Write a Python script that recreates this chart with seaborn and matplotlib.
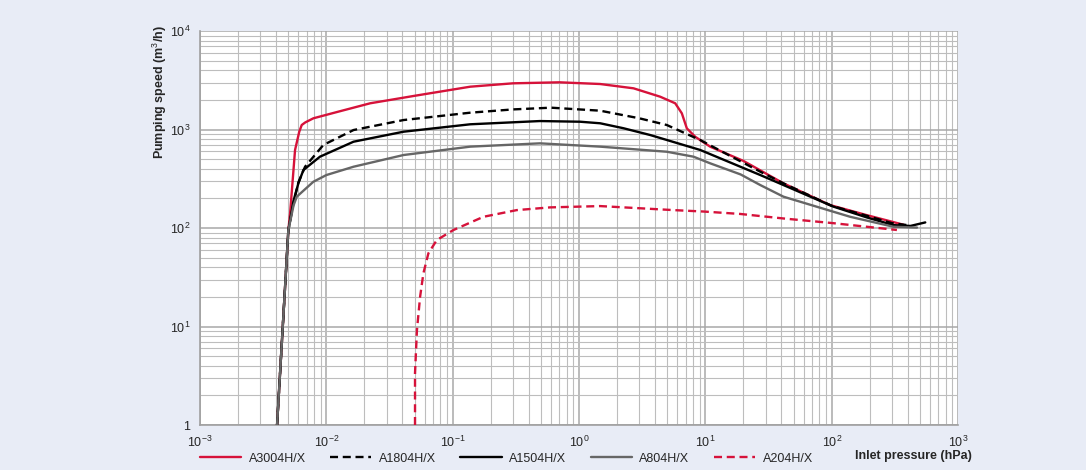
import numpy as np
import pandas as pd
import matplotlib
matplotlib.use("Agg")
import matplotlib.pyplot as plt
import matplotlib.ticker as mticker
import seaborn as sns

# Data (pressure in hPa, speed in m3/h)
a3004_p = [0.00407, 0.0045, 0.005, 0.00516, 0.00565, 0.0061, 0.00638, 0.0068, 0.00789, 0.012, 0.0222,
           0.05, 0.1375, 0.3, 0.7, 1.47, 2.7, 4.39, 5.77, 6.51, 7.13, 8.3, 10.9, 20, 41.5, 97, 190, 370]
a3004_s = [1, 9.2, 95, 140, 620, 950, 1111, 1180, 1300, 1500, 1846,
           2200, 2721, 2945, 3015, 2897, 2620, 2153, 1846, 1460, 1028, 845, 670, 480, 284, 171, 135, 108]

a1804_p = [0.00407, 0.0045, 0.005, 0.0055, 0.006, 0.00678, 0.00946, 0.0164, 0.0408, 0.1375,
           0.3, 0.6, 1.47, 3.0, 4.95, 9.1, 15, 27.2, 41.5, 100, 190, 300, 420]
a1804_s = [1, 9.2, 95, 180, 290, 419, 697, 988, 1248, 1482,
           1600, 1666, 1553, 1300, 1111, 782, 557, 373, 284, 168, 133, 112, 106]

a1504_p = [0.00407, 0.0045, 0.005, 0.0055, 0.006, 0.00658, 0.0089, 0.0164, 0.0408, 0.1375,
           0.49, 1.02, 1.47, 2.25, 3.66, 9.1, 27.2, 41.5, 103, 190, 308, 420, 550]
a1504_s = [1, 9.2, 95, 190, 284, 388, 530, 752, 950, 1130,
           1219, 1200, 1157, 1030, 879, 620, 345, 273, 165, 128, 107, 105, 114]

a804_p = [0.00407, 0.0045, 0.005, 0.0055, 0.00583, 0.00789, 0.01, 0.0164, 0.0408, 0.1375,
          0.49, 1.47, 4.95, 8.05, 10.9, 19, 27.2, 41.5, 140, 308, 473]
a804_s = [1, 9.2, 95, 170, 208, 295, 345, 419, 551, 670,
          724, 670, 595, 530, 454, 350, 273, 208, 130, 103, 101]

a204_p = [0.0503, 0.0503, 0.0521, 0.0552, 0.0586, 0.0642, 0.0748, 0.1014, 0.175, 0.321,
          0.59, 1.47, 5.6, 9.7, 18.8, 41.5, 103, 328]
a204_s = [1, 3.35, 9.2, 20.1, 34.7, 55.4, 75.5, 95.5, 130, 152,
          162, 167, 152, 147, 139, 125, 112, 95.5]

labels = ["A3004H/X", "A1804H/X", "A1504H/X", "A804H/X", "A204H/X"]
x_ticks = [1e-3, 1e-2, 1e-1, 1, 10, 100, 1000]
x_ticklabels = [r"$10^{-3}$", r"$10^{-2}$", r"$10^{-1}$", r"$10^{0}$", r"$10^{1}$", r"$10^{2}$", r"$10^{3}$"]
y_ticks = [1, 10, 100, 1000, 10000]
y_ticklabels = ["1", r"$10^{1}$", r"$10^{2}$", r"$10^{3}$", r"$10^{4}$"]

sns.set_style("white")
plt.rcParams["font.family"] = ["Liberation Sans", "DejaVu Sans"]
plt.rcParams["mathtext.fontset"] = "custom"
plt.rcParams["mathtext.rm"] = "Liberation Sans"
plt.rcParams["mathtext.it"] = "Liberation Sans:italic"
plt.rcParams["mathtext.bf"] = "Liberation Sans:bold"

bg = "#e8ecf6"
red = "#d6123a"
fig = plt.figure(figsize=(10.86, 4.70), dpi=100, facecolor=bg)
ax = fig.add_axes([0.1842, 0.0957, 0.6980, 0.8383])
ax.set_facecolor("white")

series = [
    (a3004_p, a3004_s, red, "-"),
    (a1804_p, a1804_s, "black", "--"),
    (a1504_p, a1504_s, "black", "-"),
    (a804_p, a804_s, "#666666", "-"),
    (a204_p, a204_s, red, "--"),
]
for (p, s, c, ls), lab in zip(series, labels):
    df = pd.DataFrame({"p": p, "s": s})
    sns.lineplot(data=df, x="p", y="s", ax=ax, color=c, lw=1.7, label=lab,
                 sort=False, estimator=None, zorder=3)
    line = ax.get_lines()[-1]
    line.set_linestyle(ls)
    if ls == "--":
        line.set_dashes((3.4, 2.0))

ax.set_xscale("log")
ax.set_yscale("log")
ax.set_xlim(1e-3, 1e3)
ax.set_ylim(1, 1e4)

ax.xaxis.set_minor_locator(mticker.LogLocator(base=10, subs=np.arange(2, 10)))
ax.yaxis.set_minor_locator(mticker.LogLocator(base=10, subs=np.arange(2, 10)))
ax.xaxis.set_minor_formatter(mticker.NullFormatter())
ax.yaxis.set_minor_formatter(mticker.NullFormatter())
ax.set_xticks(x_ticks)
ax.set_xticklabels(x_ticklabels)
ax.set_yticks(y_ticks)
ax.set_yticklabels(y_ticklabels)

ax.grid(which="major", color="#a8a8a8", lw=1.1)
ax.grid(which="minor", color="#bdbdbd", lw=0.8)
ax.set_axisbelow(True)
for side in ["top", "right"]:
    ax.spines[side].set_visible(False)
for side in ["left", "bottom"]:
    ax.spines[side].set_color("#a0a0a0")
    ax.spines[side].set_linewidth(1.2)
ax.tick_params(which="major", length=4, color="#a0a0a0", labelsize=9, pad=3)
ax.tick_params(which="minor", length=0)

ax.set_xlabel("")
ax.set_ylabel("")
fig.text(0.147, 0.804, "Pumping speed (m$^3$/h)", rotation=90, ha="center", va="center",
         fontsize=9, fontweight="bold")
fig.text(0.8407, 0.030, "Inlet pressure (hPa)", ha="center", va="center",
         fontsize=9, fontweight="bold")

handles, labs = ax.get_legend_handles_labels()
ax.get_legend().remove()
fig.legend(handles, labs, loc="center left", bbox_to_anchor=(0.184, 0.024), ncol=5,
           frameon=False, fontsize=9, handlelength=3.3, handletextpad=0.6,
           columnspacing=1.95, borderpad=0, borderaxespad=0)

fig.savefig("out.png", dpi=100, facecolor=bg)
